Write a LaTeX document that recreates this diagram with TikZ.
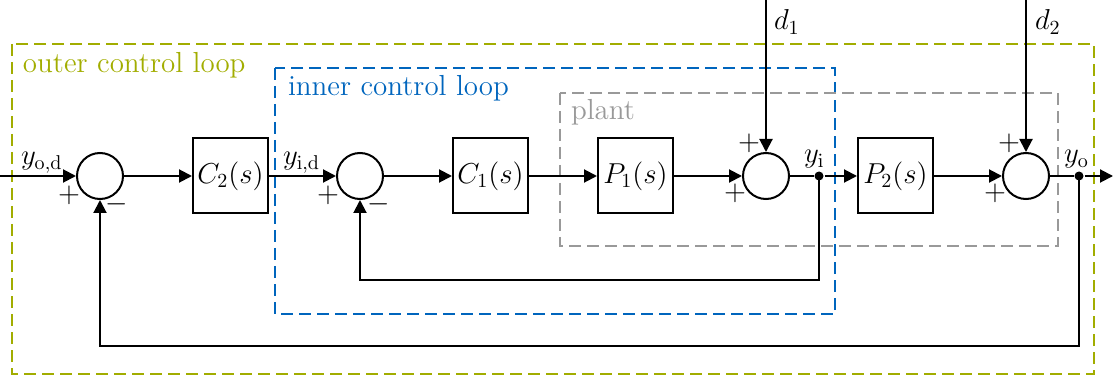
\documentclass[tikz,border=0pt]{standalone}
\usepackage{xcolor}
\usepackage{amsmath}
\usepackage{amssymb}
\usepackage{tikz}
\usetikzlibrary{positioning,arrows.meta}
\definecolor{loopgreen}{RGB}{162,173,0}
\definecolor{loopblue}{RGB}{0,101,189}
\definecolor{plantgray}{RGB}{153,153,153}

\begin{document}
\begin{tikzpicture}[x=0.5pt,y=-0.5pt,
    font=\fontsize{14.5}{17}\selectfont,
    line width=1pt,
    block/.style={draw,minimum width=37.5pt,minimum height=37.5pt,inner sep=0pt},
    sumnode/.style={draw,circle,minimum size=23pt,inner sep=0pt},
    junction/.style={circle,fill,inner sep=0pt,minimum size=4.5pt},
    signal/.style={-{Triangle[length=6.5pt,width=6.5pt]}},
    loopbox/.style={line width=0.8pt,dash pattern=on 6pt off 3pt},
    looplabel/.style={anchor=base west,inner sep=0pt},
    sign/.style={inner sep=0pt}]
    \useasboundingbox (0,0) rectangle (1113,379);

    % loop frames
    \draw[loopbox,loopgreen] (12,44) rectangle (1094,374);
    \draw[loopbox,loopblue] (275,68) rectangle (835,314);
    \draw[loopbox,plantgray] (560,93) rectangle (1058,246);
    \node[looplabel,text=loopgreen] (outerlabel) at (22,73) {outer control loop};
    \node[looplabel,text=loopblue] (innerlabel) at (287,96) {inner control loop};
    \node[looplabel,text=plantgray] (plantlabel) at (570,120) {plant};

    % blocks
    \node[sumnode] (sumo) at (100,176) {};
    \node[block] (ctwo) at (230.5,176) {$C_2(s)$};
    \node[sumnode] (sumi) at (360,176) {};
    \node[block] (cone) at (490.5,176) {$C_1(s)$};
    \node[block] (pone) at (635.5,176) {$P_1(s)$};
    \node[sumnode] (sumdone) at (766,176) {};
    \node[junction] (yi) at (819,176) {};
    \node[block] (ptwo) at (895.5,176) {$P_2(s)$};
    \node[sumnode] (sumdtwo) at (1026,176) {};
    \node[junction] (yo) at (1079,176) {};
    \coordinate (in) at (0,176);
    \coordinate (out) at (1113,176);
    \coordinate (done) at (766,0);
    \coordinate (dtwo) at (1026,0);

    % signals
    \draw[signal] (in) -- (sumo);
    \draw[signal] (sumo) -- (ctwo);
    \draw[signal] (ctwo) -- (sumi);
    \draw[signal] (sumi) -- (cone);
    \draw[signal] (cone) -- (pone);
    \draw[signal] (pone) -- (sumdone);
    \draw (sumdone) -- (yi);
    \draw[signal] (yi) -- (ptwo);
    \draw[signal] (ptwo) -- (sumdtwo);
    \draw (sumdtwo) -- (yo);
    \draw[signal] (yo) -- (out);
    \draw[signal] (done) -- (sumdone);
    \draw[signal] (dtwo) -- (sumdtwo);
    \draw[signal] (yi.center) -- ++(0,104) -| (sumi);
    \draw[signal] (yo.center) -- ++(0,170) -| (sumo);

    % signal names
    \node[anchor=base west,inner sep=0pt] (yod) at (20,165) {$y_{\mathrm{o,d}}$};
    \node[anchor=base west,inner sep=0pt] (yid) at (282,165) {$y_{\mathrm{i,d}}$};
    \node[anchor=base west,inner sep=0pt] (yilabel) at (803,163) {$y_{\mathrm{i}}$};
    \node[anchor=base west,inner sep=0pt] (yolabel) at (1063,163) {$y_{\mathrm{o}}$};
    \node[anchor=base west,inner sep=0pt] (donelabel) at (773,30) {$d_1$};
    \node[anchor=base west,inner sep=0pt] (dtwolabel) at (1034,30) {$d_2$};

    % signs
    \node[sign] (sumoplus) at (69,195) {$+$};
    \node[sign] (sumominus) at (117,204) {$-$};
    \node[sign] (sumiplus) at (328,195) {$+$};
    \node[sign] (sumiminus) at (379,204) {$-$};
    \node[sign] (sumdoneplus) at (749,143) {$+$};
    \node[sign] (sumdoneplusb) at (735,193) {$+$};
    \node[sign] (sumdtwoplus) at (1009,143) {$+$};
    \node[sign] (sumdtwoplusb) at (995,193) {$+$};
\end{tikzpicture}
\end{document}
